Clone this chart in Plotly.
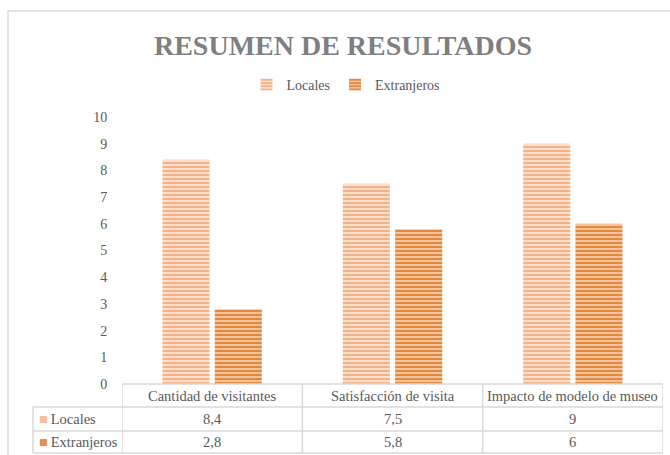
import plotly.graph_objects as go

categories = ["Cantidad de visitantes", "Satisfacción de visita", "Impacto de modelo de museo"]
series_names = ["Locales", "Extranjeros"]
locales = [8.4, 7.5, 9]
extranjeros = [2.8, 5.8, 6]
value_labels = {"Locales": ["8,4", "7,5", "9"], "Extranjeros": ["2,8", "5,8", "6"]}
y_ticks = [0, 1, 2, 3, 4, 5, 6, 7, 8, 9, 10]

W, H = 670, 455
FONT = "Liberation Serif"
TXT = "#595959"
GRID = "#D9D9D9"

def px(x):
    return x / W

def py(y):
    return 1 - y / H

colors = {
    "Locales": dict(bg="#FCDFCC", fg="#F6B189", sq="#F7BE9C"),
    "Extranjeros": dict(bg="#F3C39D", fg="#E2883F", sq="#E58F4C"),
}

fig = go.Figure()
for name, vals in zip(series_names, [locales, extranjeros]):
    c = colors[name]
    fig.add_trace(go.Bar(
        x=categories, y=vals, name=name,
        marker=dict(color=c["fg"], line=dict(width=0),
                    pattern=dict(shape="-", fgcolor=c["fg"], bgcolor=c["bg"],
                                 size=4, solidity=0.5, fillmode="replace")),
        hoverinfo="skip",
    ))

x0, x1 = px(122), px(663)
fig.update_layout(
    width=W, height=H,
    margin=dict(l=0, r=0, t=0, b=0, pad=0, autoexpand=False),
    paper_bgcolor="white", plot_bgcolor="white",
    barmode="group", bargap=0.42, bargroupgap=0.1,
    font=dict(family=FONT, color=TXT, size=14),
    title=dict(text="<b>RESUMEN DE RESULTADOS</b>", x=px(343), xanchor="center",
               y=py(45), yanchor="middle",
               font=dict(family=FONT, size=28, color="#7F7F7F")),
    legend=dict(orientation="h", x=px(346), xanchor="center", y=py(85), yanchor="middle",
                font=dict(family=FONT, size=14, color=TXT), itemwidth=30,
                bgcolor="rgba(0,0,0,0)"),
    xaxis=dict(domain=[x0, x1], range=[-0.5, 2.5], showticklabels=False, automargin=False,
               showgrid=False, zeroline=False, showline=False, ticks=""),
    yaxis=dict(domain=[py(384), py(117)], range=[0, 10], tickvals=y_ticks, automargin=False,
               showgrid=False, zeroline=False, showline=False,
               ticks="outside", ticklen=11, tickcolor="rgba(0,0,0,0)",
               tickfont=dict(family=FONT, size=14, color=TXT)),
)

shapes = []
line = dict(color=GRID, width=1.5)
# chart border
shapes.append(dict(type="rect", xref="paper", yref="paper", x0=px(8), x1=px(700),
                   y0=py(500), y1=py(11), line=line, layer="below"))
# table horizontal lines
shapes.append(dict(type="line", xref="paper", yref="paper", x0=x0, x1=x1, y0=py(384), y1=py(384), line=line))
for yy in [407, 431, 453]:
    shapes.append(dict(type="line", xref="paper", yref="paper", x0=px(33), x1=x1, y0=py(yy), y1=py(yy), line=line))
# vertical lines
shapes.append(dict(type="line", xref="paper", yref="paper", x0=px(33), x1=px(33), y0=py(407), y1=py(453), line=line))
for xb in [-0.5, 0.5, 1.5, 2.5]:
    shapes.append(dict(type="line", xref="x", yref="paper", x0=xb, x1=xb, y0=py(384), y1=py(453), line=line))

annotations = []
for cat in categories:
    annotations.append(dict(x=cat, xref="x", y=py(396), yref="paper", text=cat, showarrow=False,
                            font=dict(family=FONT, size=14.5, color=TXT), xanchor="center", yanchor="middle"))
for name, yy in zip(series_names, [419, 442]):
    annotations.append(dict(x=px(37), xref="paper", y=py(yy), yref="paper",
                            text=f"<span style='color:{colors[name]['sq']}'>■</span>\u2009{name}",
                            showarrow=False, xanchor="left", yanchor="middle",
                            font=dict(family=FONT, size=14.5, color=TXT)))
    for cat, lab in zip(categories, value_labels[name]):
        annotations.append(dict(x=cat, xref="x", y=py(yy), yref="paper", text=lab, showarrow=False,
                                font=dict(family=FONT, size=14.5, color=TXT), xanchor="center", yanchor="middle"))

fig.update_layout(shapes=shapes, annotations=annotations)
fig.write_html("out.html", config={"displayModeBar": False},
               post_script="document.body.style.margin='0px';document.body.style.overflow='hidden';")
